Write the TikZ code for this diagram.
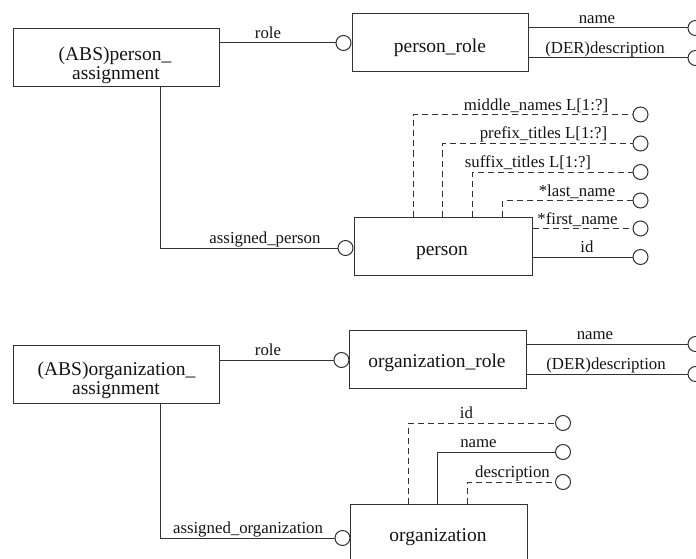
\documentclass[tikz,border=0pt]{standalone}
\usepackage{fontspec}
\setmainfont{Liberation Serif}
\definecolor{linec}{RGB}{50,50,50}
\definecolor{txtc}{RGB}{20,20,20}
\begin{document}
\begin{tikzpicture}[x=1pt,y=-1pt,
 ent/.style={draw=linec, line width=1pt, rectangle, minimum height=58pt, inner sep=0pt},
 att/.style={circle, draw=linec, line width=1pt, minimum size=15pt, inner sep=0pt, fill=white},
 lnk/.style={draw=linec, line width=1pt},
 dlnk/.style={lnk, dash pattern=on 6pt off 4pt},
 btxt/.style={font=\fontsize{19.5}{20}\selectfont, text=txtc, anchor=base, inner sep=0pt},
 btop/.style={btxt, text depth=0pt},
 bbot/.style={btxt, text height=9pt},
 ltxt/.style={font=\fontsize{16.8}{18}\selectfont, text=txtc, anchor=base, inner sep=0pt}]
\useasboundingbox (0,0) rectangle (696,559);
\clip (0,0) rectangle (696,559);

% ---------------- top part ----------------
\node[ent, minimum width=206pt] (pa) at (116,58) {};
\node[btop] (pa1) at (115,60.3) {(ABS)person\_};
\node[bbot] (pa2) at (116,79.5) {assignment};

\node[ent, minimum width=176pt] (pr) at (440,43) {};
\node[btxt] (prt) at (440,53) {person\_role};

\node[ent, minimum width=178pt] (ps) at (443,246) {};
\node[btxt] (pst) at (442,255) {person};

\node[att] (crole1) at (343.5,43) {};
\node[att] (cap) at (345.5,248) {};
\node[att] (cprn) at (695.5,28) {};
\node[att] (cprd) at (695.5,58) {};

\node[att] (cmid) at (640.5,114.5) {};
\node[att] (cpre) at (640.5,143.5) {};
\node[att] (csuf) at (640.5,172) {};
\node[att] (clast) at (640.5,200.5) {};
\node[att] (cfirst) at (640.5,228.5) {};
\node[att] (cid) at (640.5,257) {};

\draw[lnk] (pa.east |- crole1) -- (crole1.west);
\draw[lnk] ([xshift=44pt]pa.south) |- (cap.west);
\draw[lnk] (pr.east |- cprn) -- (cprn.west);
\draw[lnk] (pr.east |- cprd) -- (cprd.west);

\draw[dlnk] ([xshift=60pt]ps.north west) |- (cmid.west);
\draw[dlnk] ([xshift=89pt]ps.north west) |- (cpre.west);
\draw[dlnk] ([xshift=119pt]ps.north west) |- (csuf.west);
\draw[dlnk] ([xshift=149pt]ps.north west) |- (clast.west);
\draw[dlnk] (ps.east |- cfirst) -- (cfirst.west);
\draw[lnk] (ps.east |- cid) -- (cid.west);

\node[ltxt] (lrole1) at (268,38.5) {role};
\node[ltxt] (lap) at (265,243.5) {assigned\_person};
\node[ltxt] (lprn) at (597,23.5) {name};
\node[ltxt] (lprd) at (605,53.5) {(DER)description};
\node[ltxt] (lmid) at (536,110.5) {middle\_names L[1:?]};
\node[ltxt] (lpre) at (543.5,139) {prefix\_titles L[1:?]};
\node[ltxt] (lsuf) at (528,167.5) {suffix\_titles L[1:?]};
\node[ltxt] (llast) at (577,196) {*last\_name};
\node[ltxt] (lfirst) at (577.5,224) {*first\_name};
\node[ltxt] (lid) at (587,252.5) {id};

% ---------------- bottom part ----------------
\node[ent, minimum width=206pt] (oa) at (116,374.5) {};
\node[btop] (oa1) at (116.5,375.5) {(ABS)organization\_};
\node[bbot] (oa2) at (116,394.7) {assignment};

\node[ent, minimum width=177pt] (orr) at (437.5,359) {};
\node[btxt] (orrt) at (437,367) {organization\_role};

\node[ent, minimum width=177pt] (org) at (438.5,533) {};
\node[btxt] (orgt) at (438,541.7) {organization};

\node[att] (crole2) at (341.5,360) {};
\node[att] (cao) at (342.5,538) {};
\node[att] (corn) at (695.5,344) {};
\node[att] (cord) at (695.5,374) {};
\node[att] (coid) at (563,423) {};
\node[att] (coname) at (563,452) {};
\node[att] (codesc) at (563,482) {};

\draw[lnk] (oa.east |- crole2) -- (crole2.west);
\draw[lnk] ([xshift=44pt]oa.south) |- (cao.west);
\draw[lnk] (orr.east |- corn) -- (corn.west);
\draw[lnk] (orr.east |- cord) -- (cord.west);

\draw[dlnk] ([xshift=59pt]org.north west) |- (coid.west);
\draw[lnk] ([xshift=88pt]org.north west) |- (coname.west);
\draw[dlnk] ([xshift=118pt]org.north west) |- (codesc.west);

\node[ltxt] (lrole2) at (268,355.5) {role};
\node[ltxt] (lao) at (248,533.5) {assigned\_organization};
\node[ltxt] (lorn) at (595,339.5) {name};
\node[ltxt] (lord) at (606,369.5) {(DER)description};
\node[ltxt] (loid) at (466.5,418.5) {id};
\node[ltxt] (loname) at (478.5,447.5) {name};
\node[ltxt] (lodesc) at (512.5,477.5) {description};
\end{tikzpicture}
\end{document}
